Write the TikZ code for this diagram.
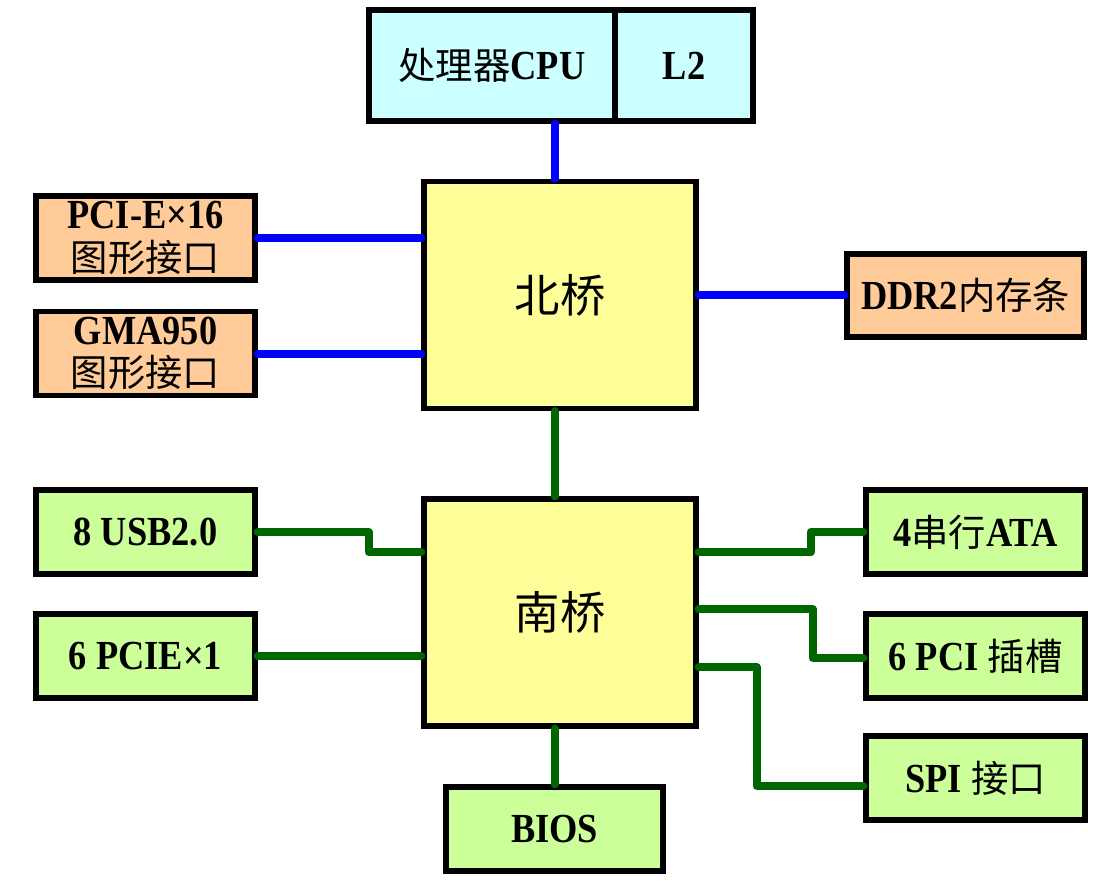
\documentclass[tikz,border=0pt]{standalone}
\usepackage{fontspec}
\setmainfont{Liberation Serif}[FakeStretch=0.88]
\newfontfamily\cjk{Noto Sans CJK SC}
\newcommand{\zh}[1]{{\cjk\mdseries\fontsize{28}{32}\selectfont #1}}
\usepackage{tikz}
\usetikzlibrary{calc}

\definecolor{cpufill}{HTML}{CCFFFF}
\definecolor{nbfill}{HTML}{FFFF99}
\definecolor{portfill}{HTML}{FFCC99}
\definecolor{iofill}{HTML}{CCFF99}
\definecolor{busblue}{HTML}{0000FF}
\definecolor{busgreen}{HTML}{006600}

\begin{document}
\begin{tikzpicture}[x=0.75pt, y=-0.75pt,
		box/.style={draw=black, line width=4pt, inner sep=0pt, font=\fontsize{31}{32}\selectfont\bfseries, align=center},
		chip/.style={box, fill=nbfill, minimum width=272*0.75pt, minimum height=227*0.75pt, font=\cjk\fontsize{34}{40}\selectfont},
		port/.style={box, fill=portfill, minimum width=219*0.75pt, minimum height=84*0.75pt},
		io/.style={box, fill=iofill, minimum width=219*0.75pt, minimum height=84*0.75pt},
		bluebus/.style={draw=busblue, line width=6pt, line cap=round, line join=round},
		greenbus/.style={draw=busgreen, line width=6pt, line cap=round, line join=round}]
		\def\px{0.75pt}
		\useasboundingbox (0,0) rectangle (1111,881);
		
		% draw processor
		\node[box, fill=cpufill, minimum width=246*\px, minimum height=111*\px] (cpu) at (492,65.5) {\zh{处理器}CPU};
		\node[box, fill=cpufill, minimum width=138*\px, minimum height=111*\px] (l2) at (684,65.5) {L2};
		
		% draw bridges
		\node[chip] (nb) at (560,295) {北桥};
		\node[chip] (sb) at (560,612.5) {南桥};
		
		% draw north bridge ports
		\node[port] (pcie16) at (145.5,238) {PCI-E×16\\\zh{图形接口}};
		\node[port] (gma) at (145.5,353.5) {GMA950\\\zh{图形接口}};
		\node[port, minimum width=237*\px, minimum height=83*\px] (ddr) at (965.5,295.5) {DDR2\zh{内存条}};
		
		% draw south bridge devices
		\node[io] (usb) at (145.5,532) {8 USB2.0};
		\node[io] (pciex1) at (145.5,656) {6 PCIE×1};
		\node[io] (sata) at (975.5,532) {4\zh{串行}ATA};
		\node[io] (pci) at (975.5,656) {6 PCI \zh{插槽}};
		\node[io] (spi) at (975.5,778) {SPI \zh{接口}};
		\node[io, minimum width=217*\px] (bios) at (554.5,829) {BIOS};
		
		% draw blue buses
		\draw[bluebus] ([xshift=-5*\px]nb.north) -- ([xshift=-5*\px]nb.north |- cpu.south);
		\draw[bluebus] (pcie16.east) -- (pcie16.east -| nb.west);
		\draw[bluebus] (gma.east) -- (gma.east -| nb.west);
		\draw[bluebus] (nb.east) -- (nb.east -| ddr.west);
		
		% draw green buses
		\draw[greenbus] ([xshift=-5*\px]nb.south) -- ([xshift=-5*\px]nb.south |- sb.north);
		\draw[greenbus] ([xshift=-5*\px]sb.south) -- ([xshift=-5*\px]sb.south |- bios.north);
		\draw[greenbus] (usb.east) -- ++(111,0) |- ([yshift=-56*\px]sb.north west);
		\draw[greenbus] (pciex1.east) -- (pciex1.east -| sb.west);
		\draw[greenbus] ([yshift=-56*\px]sb.north east) -- ++(112,0) |- (sata.west);
		\draw[greenbus] ([yshift=-113*\px]sb.north east) -- ++(114,0) |- ([yshift=-2*\px]pci.west);
		\draw[greenbus] ([yshift=-171*\px]sb.north east) -- ++(58,0) |- ([yshift=-8*\px]spi.west);
	\end{tikzpicture}
\end{document}
